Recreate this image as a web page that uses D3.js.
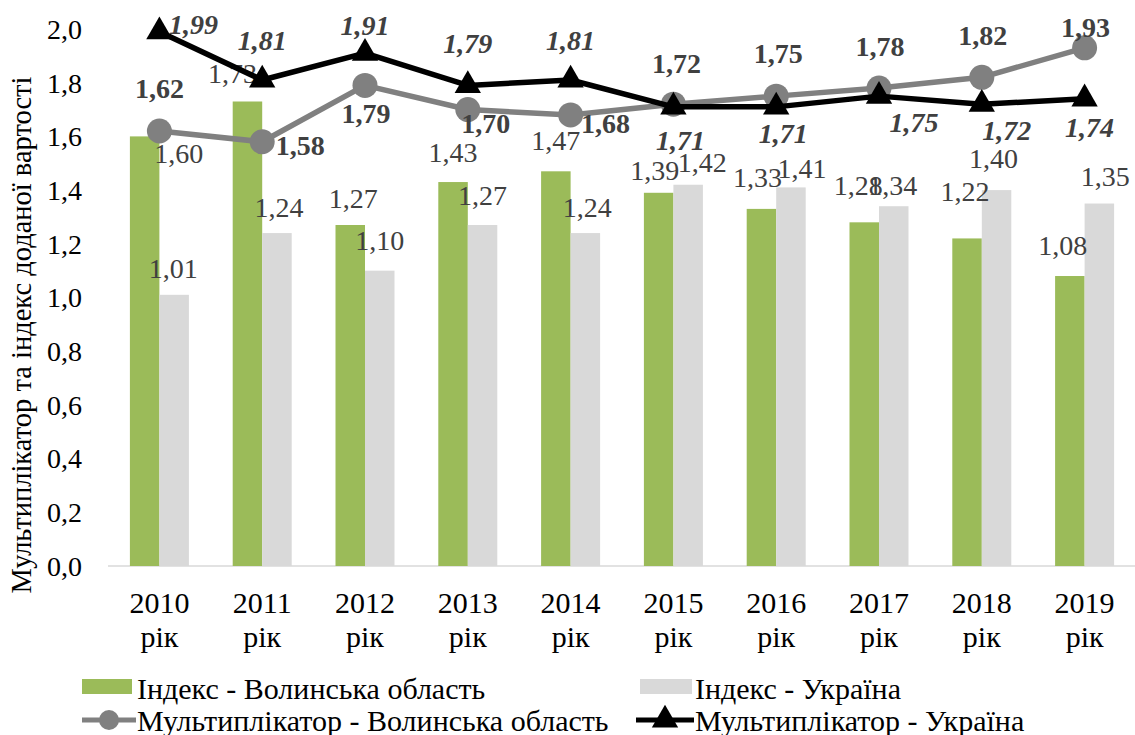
<!DOCTYPE html>
<html><head><meta charset="utf-8"><script src="https://cdn.jsdelivr.net/npm/d3@7"></script></head><body style="margin:0">
<svg id="c" width="1135" height="735"></svg>
<script>
const years = ["2010","2011","2012","2013","2014","2015","2016","2017","2018","2019"];
const yTicks = [0,0.2,0.4,0.6,0.8,1.0,1.2,1.4,1.6,1.8,2.0];
const indexVolyn = [1.60,1.73,1.27,1.43,1.47,1.39,1.33,1.28,1.22,1.08];
const indexUkraine = [1.01,1.24,1.10,1.27,1.24,1.42,1.41,1.34,1.40,1.35];
const multVolyn = [1.62,1.58,1.79,1.70,1.68,1.72,1.75,1.78,1.82,1.93];
const multUkraine = [1.99,1.81,1.91,1.79,1.81,1.71,1.71,1.75,1.72,1.74];
const seriesNames = ["Індекс - Волинська область","Індекс - Україна","Мультиплікатор - Волинська область","Мультиплікатор - Україна"];

// label nudges (layout only)
const shiftIV = [[34,17],[-15,-28],[3,-27],[0,-30],[0,-31],[-4,-23],[-4,-32],[-6,-37],[-2,-47],[-7,-31]];
const shiftIU = [[-1,-27],[2,-26],[0,-30],[0,-30],[2,-26],[14,-23],[11,-19],[-1,-21],[-3,-32],[6,-27]];
const shiftMV = [[0,-43],[38,3],[1,28],[18,14],[35,8],[3,-41],[2,-43],[1,-42],[1,-42],[1,-21]];
const shiftMU = [[34,-7],[0,-40],[0,-28],[0,-42],[0,-40],[7,33],[7,26],[35,26],[25,26],[5,28]];

const FF = "Liberation Serif";
const fmt = v => v.toFixed(2).replace(".", ",");
const svg = d3.select("#c");
const x = d3.scaleBand().domain(years).range([108,1136]);
const y = d3.scaleLinear().domain([0,2]).range([566,29]);
const bw = 29.5;
const cx = d => x(d) + x.bandwidth()/2;

function txt(g, xx, yy, s, size, opts){
  const t = g.append("text").attr("x",xx).attr("y",yy).attr("font-size",size)
    .style("font-family",`"${FF}"`).attr("fill",(opts&&opts.fill)||"#000").text(s);
  if (opts && opts.anchor) t.attr("text-anchor",opts.anchor);
  if (opts && opts.weight) t.attr("font-weight",opts.weight);
  if (opts && opts.italic) t.attr("font-style","italic");
  if (opts && opts.dy) t.attr("dy",opts.dy);
  return t;
}

// y axis ticks (scale-driven)
const gy = svg.append("g");
yTicks.forEach(v => txt(gy, 82, y(v), v.toFixed(1).replace(".", ","), 28, {anchor:"end", dy:"0.35em"}));

svg.append("line").attr("x1",108).attr("x2",1135).attr("y1",y(0)).attr("y2",y(0)).attr("stroke","#d9d9d9").attr("stroke-width",1.5);

const gx = svg.append("g");
years.forEach(yr => {
  txt(gx, cx(yr), 613, yr, 30, {anchor:"middle"});
  txt(gx, cx(yr), 647, "рік", 30, {anchor:"middle"});
});

txt(svg, 0, 0, "Мультиплікатор та індекс доданої вартості", 28.5, {anchor:"middle"})
  .attr("transform","translate(31,335) rotate(-90)");

// bars
svg.append("g").selectAll("rect").data(indexVolyn).join("rect")
  .attr("x",(d,i)=>cx(years[i])-bw).attr("width",bw).attr("y",d=>y(d)).attr("height",d=>y(0)-y(d)).attr("fill","#9bbb59");
svg.append("g").selectAll("rect").data(indexUkraine).join("rect")
  .attr("x",(d,i)=>cx(years[i])).attr("width",bw).attr("y",d=>y(d)).attr("height",d=>y(0)-y(d)).attr("fill","#d9d9d9");

function labels(vals, off, shifts, weight, italic){
  const g = svg.append("g");
  vals.forEach((d,i) => txt(g, cx(years[i])+off+shifts[i][0], y(d)+shifts[i][1], fmt(d), 28,
    {anchor:"middle", dy:"0.35em", fill:"#404040", weight:weight, italic:italic}));
}
labels(indexVolyn,-bw/2,shiftIV,null,false);
labels(indexUkraine,bw/2,shiftIU,null,false);

// lines
const line = d3.line().x((d,i)=>cx(years[i])).y(d=>y(d));
svg.append("path").datum(multVolyn).attr("d",line).attr("fill","none").attr("stroke","#808080").attr("stroke-width",5.5).attr("stroke-linejoin","round");
svg.append("g").selectAll("circle").data(multVolyn).join("circle")
  .attr("cx",(d,i)=>cx(years[i])).attr("cy",d=>y(d)).attr("r",12.5).attr("fill","#808080");
svg.append("path").datum(multUkraine).attr("d",line).attr("fill","none").attr("stroke","#000").attr("stroke-width",5.5).attr("stroke-linejoin","round");
const tri = d3.symbol().type(d3.symbolTriangle).size(300);
svg.append("g").selectAll("path").data(multUkraine).join("path")
  .attr("d",tri).attr("transform",(d,i)=>`translate(${cx(years[i])},${y(d)})`).attr("fill","#000");

labels(multVolyn,0,shiftMV,"bold",false);
labels(multUkraine,0,shiftMU,"bold",true);

// legend
const lg = svg.append("g");
lg.append("rect").attr("x",82).attr("y",679).attr("width",50).attr("height",15).attr("fill","#9bbb59");
lg.append("rect").attr("x",640).attr("y",679).attr("width",52).attr("height",15).attr("fill","#d9d9d9");
lg.append("line").attr("x1",82).attr("x2",136).attr("y1",720).attr("y2",720).attr("stroke","#808080").attr("stroke-width",5);
lg.append("circle").attr("cx",109).attr("cy",720).attr("r",10).attr("fill","#808080");
lg.append("line").attr("x1",636).attr("x2",694).attr("y1",720).attr("y2",720).attr("stroke","#000").attr("stroke-width",5);
lg.append("path").attr("d",tri).attr("transform","translate(665,720)").attr("fill","#000");
[[137,688],[695,688],[137,720],[695,720]].forEach((p,i)=>txt(lg, p[0], p[1], seriesNames[i], 30, {dy:"0.35em"}));
</script></body></html>
